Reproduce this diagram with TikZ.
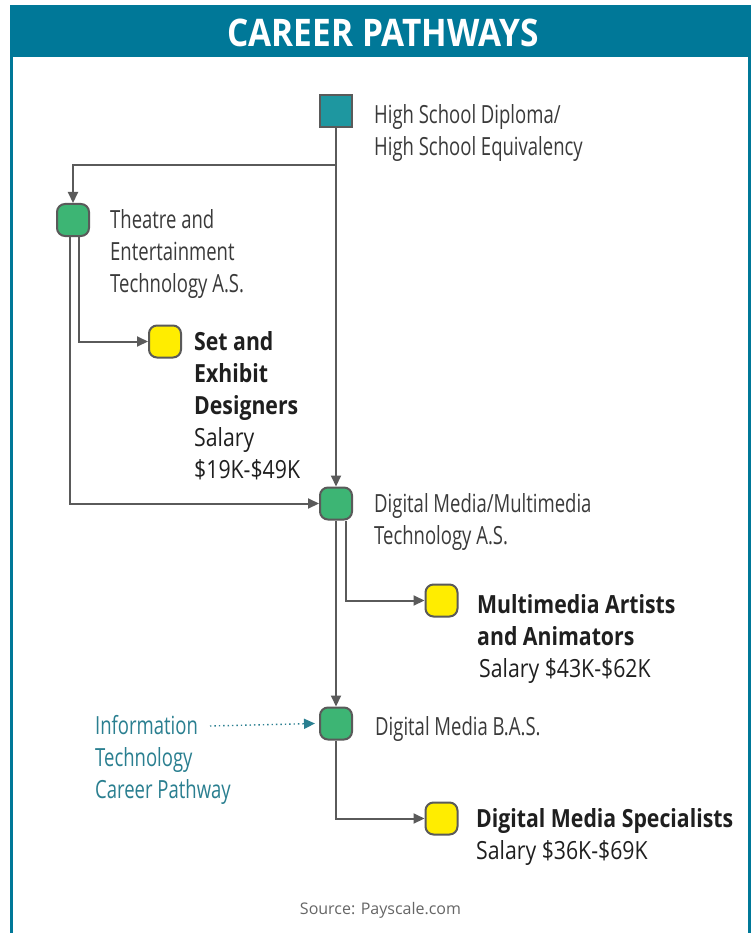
\documentclass[tikz,border=0pt]{standalone}
\usepackage{fontspec}
\setmainfont{Open Sans}
\newfontfamily\lightf[FakeStretch=0.74]{Open Sans}
\newfontfamily\condf[FakeStretch=0.85]{Open Sans}
\newfontfamily\titlef[FakeStretch=0.88]{Open Sans}
\usetikzlibrary{arrows.meta}
\definecolor{headteal}{HTML}{007898}
\definecolor{sqteal}{HTML}{1E97A0}
\definecolor{nodegreen}{HTML}{3DB574}
\definecolor{nodeyellow}{HTML}{FFED00}
\definecolor{linegray}{HTML}{5A5A5A}
\definecolor{txtgray}{HTML}{3A3A3A}
\definecolor{infoteal}{HTML}{2A7F90}
\tikzset{
  boxnode/.style={draw=linegray, line width=2pt, minimum size=32pt, inner sep=0pt, rounded corners=8pt},
  greenbox/.style={boxnode, fill=nodegreen},
  yellowbox/.style={boxnode, fill=nodeyellow},
  conn/.style={draw=linegray, line width=2pt, -{Triangle[length=11pt,width=10pt]}},
  lighttxt/.style={anchor=base west, inner sep=0pt, align=left, text=txtgray, font=\lightf\fontsize{25}{32}\selectfont},
  jobtxt/.style={anchor=base west, inner sep=0pt, align=left, text=black!88, font=\condf\fontsize{25}{32}\selectfont},
  infotxt/.style={anchor=base west, inner sep=0pt, align=left, text=infoteal, font=\lightf\fontsize{25}{32}\selectfont},
}
\begin{document}
\begin{tikzpicture}[x=1pt,y=-1pt]
\useasboundingbox (0,0) rectangle (754,933);
\fill[white] (0,0) rectangle (754,933);
% frame
\fill[headteal] (10,5) rectangle (751,57);
\draw[headteal, line width=3pt] (11.5,57) -- (11.5,933);
\draw[headteal, line width=3pt] (749.5,57) -- (749.5,933);
\node[text=white, inner sep=0pt, font=\titlef\bfseries\fontsize{38}{40}\selectfont] (title) at (383,33) {CAREER PATHWAYS};

% nodes
\node[boxnode, fill=sqteal, rounded corners=0pt] (hs) at (336,111.5) {};
\node[greenbox] (th) at (73,220) {};
\node[yellowbox] (set) at (165,341.5) {};
\node[greenbox] (dm) at (336,503.5) {};
\node[yellowbox] (ma) at (441.5,600.5) {};
\node[greenbox] (dmb) at (336,723.5) {};
\node[yellowbox] (ds) at (441.5,818.5) {};

% texts (anchor = baseline of the last line)
\node[lighttxt] (hstxt) at (374,156) {High School Diploma/\\High School Equivalency};
\node[lighttxt] (thtxt) at (110,292) {Theatre and\\Entertainment\\Technology A.S.};
\node[jobtxt] (settxt) at (194,478) {\bfseries Set and\\\bfseries Exhibit\\\bfseries Designers\\Salary\\\$19K-\$49K};
\node[lighttxt] (dmtxt) at (374,544) {Digital Media/Multimedia\\Technology A.S.};
\node[jobtxt] (matxt) at (477,677) {\bfseries Multimedia Artists\\\bfseries and Animators\\\hspace{2pt}Salary \$43K-\$62K};
\node[lighttxt] (dmbtxt) at (375,735) {Digital Media B.A.S.};
\node[infotxt] (infotxt) at (95,798) {Information\\Technology\\Career Pathway};
\node[jobtxt] (dstxt) at (476,859) {\bfseries Digital Media Specialists\\Salary \$36K-\$69K};
\node[text=black!60, inner sep=0pt, anchor=base, font=\fontsize{16}{18}\selectfont] (src) at (380.5,914) {Source: Payscale.com};

% connectors
\coordinate (br) at (336,165);
\coordinate (itstart) at (210,726);
\draw[conn] (hs.south) -- (dm.north);
\draw[conn] (br) -| (th.north);
\draw[conn] ([xshift=-3pt]th.south) |- (dm.west);
\draw[conn] ([xshift=6pt]th.south) |- (set.west);
\draw[conn] (dm.south) -- (dmb.north);
\draw[conn] ([xshift=10pt]dm.south) |- (ma.west);
\draw[conn] (dmb.south) |- (ds.west);
\draw[draw=infoteal, line width=1.4pt, dash pattern=on 1.4pt off 3pt, -{Triangle[length=11pt,width=10pt]}] (itstart) -- ([xshift=-4pt]dmb.west);
\end{tikzpicture}
\end{document}
